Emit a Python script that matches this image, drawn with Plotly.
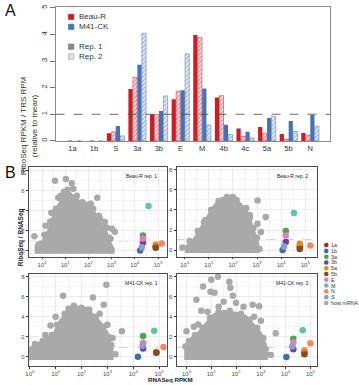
import plotly.graph_objects as go

W, H = 359, 385

# ---------------- Panel A data ----------------
categories = ["1a", "1b", "S", "3a", "3b", "E", "M", "4b", "4c", "5a", "5b", "N"]
beau_rep1 = [0, 0, 0.29, 1.95, 0.99, 1.56, 3.98, 1.63, 0.47, 0.52, 0.26, 0.30]
beau_rep2 = [0, 0, 0.34, 2.39, 0.99, 1.87, 3.88, 1.70, 0.17, 0.29, 0.07, 0.22]
m41_rep1 = [0, 0, 0.56, 2.86, 1.12, 1.90, 1.97, 0.61, 0.34, 0.86, 0.75, 0.97]
m41_rep2 = [0, 0, 0.19, 4.04, 1.69, 3.27, 0.60, 0.24, 0.11, 0.92, 0.36, 0.55]
a_yticks = [0, 1, 2, 3, 4, 5]

# ---------------- Panel B data ----------------
genes = ["1a", "1b", "3a", "3b", "5a", "5b", "E", "M", "N", "S"]
gene_colors = ["#b8221f", "#3b6db3", "#4aa846", "#7a3d97", "#e8891c", "#8a4b1f",
               "#e07bc4", "#66c2a5", "#f4875f", "#8c9fcc"]
legend_labels = genes + ["host mRNA"]
host_color = "#a9a9a9"
b_xtick_vals = [0, 1, 2, 3, 4, 5]
b_xtick_text = ["10<sup>0</sup>", "10<sup>1</sup>", "10<sup>2</sup>",
                "10<sup>3</sup>", "10<sup>4</sup>", "10<sup>5</sup>"]
b_ytick_vals = [0, 2, 4, 6, 8]

# viral genes: log10 RNASeq RPKM and RiboSeq/RNASeq ratio (order = genes)
beau1_vx = [4.90, 4.23, 4.35, 4.35, 4.90, 4.90, 4.35, 4.59, 5.16, 4.30]
beau1_vy = [0.42, 0.02, 1.52, 0.80, 0.60, 0.30, 1.22, 4.46, 0.73, 0.36]
beau2_vx = [4.77, 4.06, 4.19, 4.19, 4.77, 4.77, 4.19, 4.53, 5.21, 4.12]
beau2_vy = [0.35, 0.00, 1.91, 0.80, 0.62, 0.10, 1.45, 3.70, 0.45, 0.35]
m41r1_vx = [4.89, 4.18, 4.38, 4.38, 4.89, 4.89, 4.38, 4.81, 5.17, 4.36]
m41r1_vy = [0.45, 0.02, 2.08, 0.83, 0.50, 0.42, 1.42, 2.61, 0.99, 1.12]
m41r2_vx = [4.76, 4.03, 4.31, 4.31, 4.76, 4.76, 4.31, 4.69, 5.00, 4.27]
m41r2_vy = [0.45, 0.00, 1.82, 0.76, 0.62, 0.26, 1.45, 2.67, 1.36, 1.03]

# host mRNA: outline of the dense core (log10 RPKM, ratio) and sparse points
beau1_core_x = [-0.28, -0.28, 0.0, 0.24, 0.46, 0.74, 0.9, 1.05, 1.24, 1.6, 2.03, 2.24, 2.38, 2.6, 2.8, 2.95, 3.08, 3.08]
beau1_core_y = [-0.3, 0.5, 0.9, 1.9, 3.4, 4.7, 5.5, 5.8, 5.7, 5.0, 4.5, 4.0, 3.3, 2.5, 1.8, 0.8, 0.2, -0.3]
beau1_pts_x = [-0.33, -0.04, 0.56, 1.03, 1.28, 0.8, 0.7, 1.1, 2.38, 2.1, 2.71, 3.02, 3.14, 3.0, 2.9, 0.4,
               1.5, 1.74, 2.5, 2.8, 0.15, 2.95, 1.35, 0.95,
               0.1, 0.35, 0.6, 0.85, 1.15, 1.45, 1.9, 2.2, 2.45, 2.7, 2.9, -0.15]
beau1_pts_y = [1.46, 0.73, 7.0, 7.17, 6.73, 5.5, 5.3, 6.1, 5.3, 4.7, 2.87, 2.2, 1.9, 0.05, 0.05, 3.8,
               5.5, 4.85, 3.2, 2.3, 2.5, 1.2, 6.2, 5.9,
               1.6, 2.9, 4.2, 5.2, 5.6, 5.3, 4.6, 4.2, 3.5, 2.3, 1.3, 0.6]

beau2_core_x = [0.05, 0.05, 0.3, 0.45, 0.69, 0.96, 1.23, 1.58, 1.99, 2.33, 2.61, 2.74, 2.88, 3.05, 3.05]
beau2_core_y = [-0.3, 0.4, 0.8, 1.4, 2.3, 3.4, 4.5, 5.2, 5.4, 4.6, 3.8, 2.9, 1.9, 0.7, -0.3]
beau2_pts_x = [-0.1, 3.02, 3.36, 3.16, 2.7, 1.6, 2.0, 2.33, 0.8, 1.1, 3.1, 3.02, 1.45, 1.8, 2.55, 0.55,
               0.2, 0.55, 0.85, 1.1, 1.4, 1.75, 2.15, 2.5, 2.7, 2.85, 3.0]
beau2_pts_y = [0.27, 4.95, 3.3, 1.8, 3.5, 5.0, 5.3, 3.8, 2.8, 4.0, 0.1, 2.64, 4.9, 5.2, 4.2, 1.9,
               0.9, 1.9, 3.0, 4.0, 4.9, 5.3, 5.0, 4.1, 3.2, 2.2, 1.2]

m41r1_core_x = [0.0, 0.0, 0.35, 0.6, 0.93, 1.18, 1.57, 1.83, 2.1, 2.34, 2.73, 2.99, 3.12, 3.2, 3.2]
m41r1_core_y = [-0.3, 0.9, 1.4, 1.7, 2.4, 3.7, 4.9, 5.05, 4.8, 4.5, 3.5, 2.5, 1.5, 0.9, -0.3]
m41r1_pts_x = [0.09, 1.29, 2.96, 2.44, 2.86, 2.3, 3.56, 3.31, 3.2, 0.8, 0.2, 1.5, 2.0, 1.0, 2.7, 3.0, 0.6,
               0.2, 0.5, 0.85, 1.05, 1.35, 1.7, 2.2, 2.55, 2.85, 3.05, 3.15]
m41r1_pts_y = [0.43, 6.1, 7.2, 5.94, 5.2, 4.7, 2.57, 0.27, 1.9, 3.14, 1.3, 4.8, 4.9, 4.0, 4.3, 3.2, 2.2,
               1.1, 1.6, 2.2, 3.2, 4.3, 5.1, 4.7, 4.0, 3.0, 2.0, 1.2]

m41r2_core_x = [-0.05, -0.05, 0.2, 0.47, 0.8, 1.13, 1.53, 2.0, 2.4, 2.73, 3.0, 3.2, 3.25]
m41r2_core_y = [-0.3, 1.2, 1.9, 2.4, 3.4, 4.3, 4.6, 4.4, 4.1, 3.2, 2.4, 1.3, -0.3]
m41r2_pts_x = [-0.04, 0.0, 0.47, 0.4, 0.67, 1.0, 1.27, 0.97, 1.13, 1.73, 1.77, 1.87, 2.0, 2.67, 2.93, 2.73,
               3.0, 3.6, 3.2, 3.4, 0.6, 0.85, 1.5, 1.3, 2.3, 0.3,
               0.1, 0.35, 0.65, 0.95, 1.3, 1.75, 2.2, 2.55, 2.85, 3.1, 3.2]
m41r2_pts_y = [1.03, 2.57, 3.24, 5.7, 7.03, 7.7, 8.0, 6.5, 6.4, 7.5, 6.9, 6.1, 5.4, 5.2, 5.05, 4.0,
               3.6, 2.35, 0.3, 0.2, 4.6, 4.5, 5.5, 5.0, 5.0, 3.0,
               1.6, 2.2, 2.9, 3.9, 4.5, 4.6, 4.3, 3.7, 2.9, 1.9, 0.8]

panels = [
    ("Beau-R rep. 1", beau1_vx, beau1_vy, beau1_core_x, beau1_core_y, beau1_pts_x, beau1_pts_y),
    ("Beau-R rep. 2", beau2_vx, beau2_vy, beau2_core_x, beau2_core_y, beau2_pts_x, beau2_pts_y),
    ("M41-CK rep. 1", m41r1_vx, m41r1_vy, m41r1_core_x, m41r1_core_y, m41r1_pts_x, m41r1_pts_y),
    ("M41-CK rep. 2", m41r2_vx, m41r2_vy, m41r2_core_x, m41r2_core_y, m41r2_pts_x, m41r2_pts_y),
]

FONT = "Liberation Sans, Arial, Helvetica, sans-serif"
RED = "#cc1d24"
BLUE = "#4673b5"


def px(x):
    return x / W


def py(y):
    return 1 - y / H


fig = go.Figure()

# ---------------- Panel A bars ----------------
bar_specs = [
    (beau_rep1, dict(color=RED, line=dict(width=0))),
    (beau_rep2, dict(color="#f3c4c4", line=dict(color=RED, width=0.5),
                     pattern=dict(shape="/", fgcolor=RED, bgcolor="#fbe4e4", size=3, solidity=0.35))),
    (m41_rep1, dict(color=BLUE, line=dict(width=0))),
    (m41_rep2, dict(color="#c9d7ee", line=dict(color=BLUE, width=0.5),
                    pattern=dict(shape="/", fgcolor=BLUE, bgcolor="#e6edf8", size=3, solidity=0.35))),
]
for vals, mk in bar_specs:
    fig.add_trace(go.Bar(x=categories, y=vals, marker=mk, xaxis="x", yaxis="y",
                         showlegend=False, hoverinfo="skip"))

# ---------------- Panel B scatter ----------------
axes_ids = [("x2", "y2"), ("x3", "y3"), ("x4", "y4"), ("x5", "y5")]
for (xa, ya), (title, vx, vy, cx, cy, hx, hy) in zip(axes_ids, panels):
    fig.add_trace(go.Scatter(x=cx, y=cy, mode="lines", fill="toself", fillcolor=host_color,
                             line=dict(color=host_color, width=2), xaxis=xa, yaxis=ya,
                             showlegend=False, hoverinfo="skip"))
    fig.add_trace(go.Scatter(x=hx, y=hy, mode="markers",
                             marker=dict(color=host_color, size=6.5, line=dict(width=0)),
                             xaxis=xa, yaxis=ya, showlegend=False, hoverinfo="skip"))
    for g, c, gx, gy in zip(genes, gene_colors, vx, vy):
        fig.add_trace(go.Scatter(x=[gx], y=[gy], mode="markers",
                                 marker=dict(color=c, size=6.5, line=dict(width=0)),
                                 xaxis=xa, yaxis=ya, showlegend=False, hoverinfo="skip"))

layout = dict(
    width=W, height=H, margin=dict(l=0, r=0, t=0, b=0),
    paper_bgcolor="white", plot_bgcolor="white",
    font=dict(family=FONT, color="#333333"),
    barmode="group", bargap=0.17, bargroupgap=0.06,
    showlegend=False,
)

layout["xaxis"] = dict(domain=[px(53), px(330)], anchor="y", type="category",
                       range=[-0.78, 11.93], showline=True, mirror=True, linecolor="#8c8c8c",
                       linewidth=1, ticks="", tickfont=dict(size=7.5, color="#333"),
                       showgrid=False, zeroline=False, fixedrange=True)
layout["yaxis"] = dict(domain=[py(140), py(5)], anchor="x", range=[0, 5.03],
                       tickvals=a_yticks, tickangle=-90, ticks="outside", ticklen=5,
                       tickcolor="#777", showline=True, mirror=True, linecolor="#8c8c8c",
                       linewidth=1, tickfont=dict(size=7.5, color="#333"),
                       showgrid=False, zeroline=False)

b_x_dom = [[px(26), px(165)], [px(175), px(317)], [px(26), px(165)], [px(175), px(317)]]
b_y_dom = [[py(257), py(166)], [py(257), py(166)], [py(367), py(274)], [py(367), py(274)]]
b_x_rng = [[-0.57, 5.37], [-0.34, 5.50], [-0.04, 5.29], [-0.40, 5.28]]
b_y_rng = [[-0.62, 8.39], [-0.69, 8.32], [-0.92, 8.29], [-0.92, 8.29]]

for i in range(4):
    n = i + 2
    layout[f"xaxis{n}"] = dict(domain=b_x_dom[i], anchor=f"y{n}", range=b_x_rng[i],
                               tickvals=b_xtick_vals, ticktext=b_xtick_text,
                               ticks="outside", ticklen=1.5, tickcolor="#333",
                               tickfont=dict(size=6, color="#4d4d4d"),
                               showline=True, mirror=True, linecolor="#4d4d4d", linewidth=1,
                               showgrid=True, gridcolor="#ebebeb", gridwidth=0.7,
                               minor=dict(dtick=0.5, tick0=0.5, showgrid=True, gridcolor="#f4f4f4", gridwidth=0.5),
                               zeroline=False)
    layout[f"yaxis{n}"] = dict(domain=b_y_dom[i], anchor=f"x{n}", range=b_y_rng[i],
                               tickvals=b_ytick_vals,
                               ticks="outside", ticklen=2, tickcolor="#333",
                               tickfont=dict(size=6, color="#4d4d4d"),
                               showline=True, mirror=True, linecolor="#4d4d4d", linewidth=1,
                               showgrid=True, gridcolor="#ebebeb", gridwidth=0.7,
                               minor=dict(dtick=1, tick0=1, showgrid=True, gridcolor="#f4f4f4", gridwidth=0.5),
                               zeroline=False)

fig.update_layout(**layout)

shapes = []
# dashed line y = 1, panel A
shapes.append(dict(type="line", xref="x domain", yref="y", x0=0, x1=1, y0=1, y1=1,
                   line=dict(color="#444", width=0.8, dash="dash"), layer="above"))
for i in range(4):
    n = i + 2
    shapes.append(dict(type="line", xref=f"x{n} domain", yref=f"y{n}", x0=0, x1=1, y0=1, y1=1,
                       line=dict(color="#9a9a9a", width=1, dash="dash"), layer="below"))

annotations = []
# panel letters
annotations.append(dict(text="A", x=0, y=py(-2), xref="paper", yref="paper", xanchor="left",
                        yanchor="top", showarrow=False, font=dict(size=16, color="#111")))
annotations.append(dict(text="B", x=0, y=py(161), xref="paper", yref="paper", xanchor="left",
                        yanchor="top", showarrow=False, font=dict(size=16, color="#111")))
# panel A y title
annotations.append(dict(text="RiboSeq RPKM / TRS RPM<br>(relative to mean)", x=px(15), y=py(73),
                        xref="paper", yref="paper", textangle=-90, showarrow=False,
                        font=dict(size=8, color="#333")))
# panel A legend
leg_a = [("Beau-R", RED, RED, 15), ("M41-CK", BLUE, BLUE, 25),
         ("Rep. 1", "#8c8c8c", "#6f6f6f", 45), ("Rep. 2", "#e2e2e2", "#9a9a9a", 55)]
for lab, fc, lc, yy in leg_a:
    shapes.append(dict(type="rect", xref="paper", yref="paper", x0=px(66), x1=px(71.5),
                       y0=py(yy + 2.7), y1=py(yy - 2.7), fillcolor=fc, line=dict(color=lc, width=0.6)))
    annotations.append(dict(text=lab, x=px(74.5), y=py(yy), xref="paper", yref="paper",
                            xanchor="left", yanchor="middle", showarrow=False,
                            font=dict(size=8, color="#333")))
# panel B facet labels
for i, (title, *_rest) in enumerate(panels):
    n = i + 2
    annotations.append(dict(text=title, x=0.82, y=0.9, xref=f"x{n} domain", yref=f"y{n} domain",
                            xanchor="center", yanchor="middle", showarrow=False,
                            font=dict(size=5, color="#222")))
# panel B axis titles
annotations.append(dict(text="<b>RiboSeq / RNASeq</b>", x=px(12.5), y=py(268), xref="paper",
                        yref="paper", textangle=-90, showarrow=False, font=dict(size=6.5, color="#222")))
annotations.append(dict(text="<b>RNASeq RPKM</b>", x=px(169), y=0, xref="paper",
                        yref="paper", yanchor="bottom", showarrow=False, borderpad=0,
                        font=dict(size=6.2, color="#222")))
# panel B legend
leg_colors = gene_colors + [host_color]
for k, (lab, c) in enumerate(zip(legend_labels, leg_colors)):
    yy = 245 + 5.83 * k
    shapes.append(dict(type="circle", xref="paper", yref="paper", x0=px(323.7), x1=px(328.3),
                       y0=py(yy + 2.3), y1=py(yy - 2.3), fillcolor=c, line=dict(width=0)))
    annotations.append(dict(text=lab, x=px(328.8), y=py(yy), xref="paper", yref="paper",
                            xanchor="left", yanchor="middle", showarrow=False,
                            font=dict(size=5.3, color="#333")))

fig.update_layout(shapes=shapes, annotations=annotations)
fig.write_html("out.html")
